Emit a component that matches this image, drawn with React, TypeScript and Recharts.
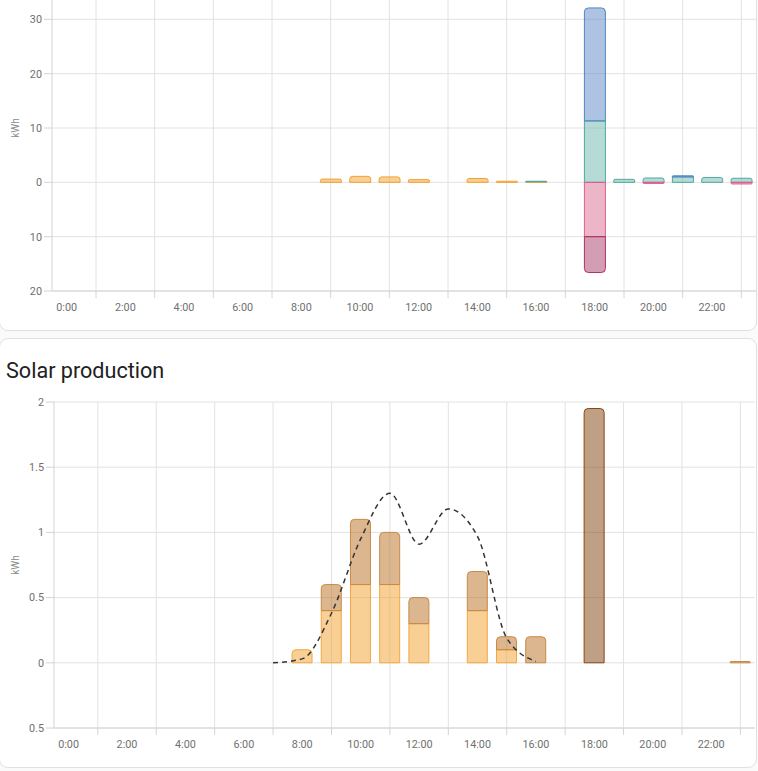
import { ComposedChart, BarChart, Bar, Line, XAxis, YAxis, CartesianGrid, Rectangle } from 'recharts';

const hours = [0, 1, 2, 3, 4, 5, 6, 7, 8, 9, 10, 11, 12, 13, 14, 15, 16, 17, 18, 19, 20, 21, 22, 23];
const hourLabels = [
  '0:00', '1:00', '2:00', '3:00', '4:00', '5:00', '6:00', '7:00', '8:00', '9:00', '10:00', '11:00',
  '12:00', '13:00', '14:00', '15:00', '16:00', '17:00', '18:00', '19:00', '20:00', '21:00', '22:00', '23:00',
];
const gridHours = [1, 3, 5, 7, 9, 11, 13, 15, 17, 19, 21, 23];

// energy usage (kWh), positive = consumed, negative = stored
const usageSolar = [0, 0, 0, 0, 0, 0, 0, 0, 0, 0.6, 1.1, 1.0, 0.5, 0, 0.7, 0.2, 0.1, 0, 0, 0, 0, 0, 0, 0];
const usageBatteryOut = [0, 0, 0, 0, 0, 0, 0, 0, 0, 0, 0, 0, 0, 0, 0, 0, 0.1, 0, 11.3, 0.55, 0.8, 1.0, 0.9, 0.75];
const usageGrid = [0, 0, 0, 0, 0, 0, 0, 0, 0, 0, 0, 0, 0, 0, 0, 0, 0, 0, 20.8, 0, 0, 0.2, 0, 0];
const usageBatteryIn = [0, 0, 0, 0, 0, 0, 0, 0, 0, 0, 0, 0, 0, 0, 0, 0, 0, 0, -10, 0, -0.2, 0, 0, -0.3];
const usageBattery2In = [0, 0, 0, 0, 0, 0, 0, 0, 0, 0, 0, 0, 0, 0, 0, 0, 0, 0, -6.6, 0, 0, 0, 0, 0];
const usageTicks = [-20, -10, 0, 10, 20, 30];

// solar production (kWh)
const solarA = [0, 0, 0, 0, 0, 0, 0, 0, 0.1, 0.4, 0.6, 0.6, 0.3, 0, 0.4, 0.1, 0, 0, 0, 0, 0, 0, 0, 0];
const solarB = [0, 0, 0, 0, 0, 0, 0, 0, 0, 0.2, 0.5, 0.4, 0.2, 0, 0.3, 0.1, 0.2, 0, 0, 0, 0, 0, 0, 0.01];
const solarC = [0, 0, 0, 0, 0, 0, 0, 0, 0, 0, 0, 0, 0, 0, 0, 0, 0, 0, 1.95, 0, 0, 0, 0, 0];
const forecast = [null, null, null, null, null, null, null, 0, 0.03, 0.38, 0.95, 1.3, 0.91, 1.18, 0.97, 0.19, 0.01, null, null, null, null, null, null, null];
const solarTicks = [-0.5, 0, 0.5, 1, 1.5, 2];

const usageData = hours.map((h, i) => ({
  hour: h,
  solar: usageSolar[i],
  batteryOut: usageBatteryOut[i],
  grid: usageGrid[i],
  batteryIn: usageBatteryIn[i],
  battery2In: usageBattery2In[i],
}));

const solarData = hours.map((h, i) => ({
  hour: h,
  a: solarA[i],
  b: solarB[i],
  c: solarC[i],
  forecast: forecast[i],
}));

const FONT = 'Roboto, sans-serif';
const TICK_COLOR = '#707070';
const AXIS_COLOR = '#d4d4d4';

// round only the outer end of each stack
const stackShape = (key: string, order: string[], negative: boolean) => (props: any) => {
  const { x, y, width, height, payload } = props;
  if (!height) return null;
  const idx = order.indexOf(key);
  const isEnd = order.slice(idx + 1).every((k) => !payload[k]);
  const top = Math.min(y, y + height);
  const h = Math.abs(height);
  const r = isEnd ? 4 : 0;
  const radius: [number, number, number, number] = negative ? [0, 0, r, r] : [r, r, 0, 0];
  return (
    <Rectangle
      x={x}
      y={top}
      width={width}
      height={h}
      radius={radius}
      fill={props.fill}
      fillOpacity={props.fillOpacity}
      stroke={props.stroke}
      strokeWidth={1}
    />
  );
};

const HourTick = (props: any) => {
  const { x, y, payload } = props;
  const h = Number(payload.value);
  if (h % 2 === 1) {
    return <line x1={x} x2={x} y1={y} y2={y + 7} stroke={AXIS_COLOR} />;
  }
  return (
    <text x={x} y={y + 20} textAnchor="middle" fontSize={10.8} fill={TICK_COLOR} fontFamily={FONT}>
      {hourLabels[h]}
    </text>
  );
};

const KwhLabel = (props: any) => {
  const vb = props.viewBox;
  const cx = 16;
  const cy = vb.y + vb.height / 2;
  return (
    <text
      x={cx}
      y={cy}
      transform={`rotate(-90 ${cx} ${cy})`}
      textAnchor="middle"
      dominantBaseline="middle"
      fontSize={10}
      fill="#8c8c8c"
      fontFamily={FONT}
    >
      kWh
    </text>
  );
};

const absFormat = (v: number) => String(Math.abs(v));

const posOrder = ['solar', 'batteryOut', 'grid'];
const negOrder = ['batteryIn', 'battery2In'];
const solarOrder = ['a', 'b', 'c'];

const cardStyle: React.CSSProperties = {
  position: 'absolute',
  left: -1,
  width: 758,
  background: '#fff',
  border: '1px solid #e0e0e0',
  borderRadius: 9,
  boxSizing: 'border-box',
};

const App = () => {
  return (
    <div
      style={{
        position: 'absolute',
        left: 0,
        top: 0,
        width: 758,
        height: 771,
        overflow: 'hidden',
        background: '#fafafa',
        fontFamily: FONT,
      }}
    >
      <div style={{ ...cardStyle, top: -30, height: 361 }} />
      <div style={{ ...cardStyle, top: 338, height: 430 }} />

      <div style={{ position: 'absolute', left: 0, top: -45 }}>
        <BarChart
          width={758}
          height={370}
          data={usageData}
          stackOffset="sign"
          barCategoryGap="15%"
          margin={{ top: 10, right: 2, bottom: 4, left: 0 }}
        >
          <CartesianGrid stroke="#e2e2e2" verticalValues={gridHours} />
          <XAxis
            dataKey="hour"
            type="category"
            interval={0}
            height={30}
            tickLine={false}
            tickSize={0}
            tickMargin={0}
            tick={<HourTick />}
            axisLine={{ stroke: AXIS_COLOR }}
          />
          <YAxis
            width={52}
            domain={[-20, 40]}
            ticks={usageTicks}
            tickFormatter={absFormat}
            tick={{ fontSize: 10.8, fill: TICK_COLOR, fontFamily: FONT }}
            tickLine={{ stroke: AXIS_COLOR }}
            tickSize={8}
            tickMargin={2}
            axisLine={{ stroke: AXIS_COLOR }}
            label={{ content: KwhLabel }}
          />
          <Bar dataKey="solar" stackId="u" fill="#f19f2b" fillOpacity={0.5} stroke="#f5a030" isAnimationActive={false} shape={stackShape('solar', posOrder, false)} />
          <Bar dataKey="batteryOut" stackId="u" fill="#6db7af" fillOpacity={0.5} stroke="#4ea89e" isAnimationActive={false} shape={stackShape('batteryOut', posOrder, false)} />
          <Bar dataKey="grid" stackId="u" fill="#5d87c3" fillOpacity={0.5} stroke="#4f86c4" isAnimationActive={false} shape={stackShape('grid', posOrder, false)} />
          <Bar dataKey="batteryIn" stackId="u" fill="#d96b91" fillOpacity={0.5} stroke="#e05c8c" isAnimationActive={false} shape={stackShape('batteryIn', negOrder, true)} />
          <Bar dataKey="battery2In" stackId="u" fill="#a73b67" fillOpacity={0.5} stroke="#b0305e" isAnimationActive={false} shape={stackShape('battery2In', negOrder, true)} />
        </BarChart>
      </div>

      <div
        style={{
          position: 'absolute',
          left: 6,
          top: 357,
          fontSize: 21.6,
          lineHeight: '28px',
          color: '#212121',
          fontFamily: FONT,
        }}
      >
        Solar production
      </div>

      <div style={{ position: 'absolute', left: 0, top: 390 }}>
        <ComposedChart
          width={758}
          height={372}
          data={solarData}
          barCategoryGap="15%"
          margin={{ top: 12, right: 3, bottom: 4, left: 0 }}
        >
          <CartesianGrid stroke="#e2e2e2" verticalValues={gridHours} />
          <XAxis
            dataKey="hour"
            type="category"
            interval={0}
            height={30}
            tickLine={false}
            tickSize={0}
            tickMargin={0}
            tick={<HourTick />}
            axisLine={{ stroke: AXIS_COLOR }}
          />
          <YAxis
            width={54}
            domain={[-0.5, 2]}
            ticks={solarTicks}
            tickFormatter={absFormat}
            tick={{ fontSize: 10.8, fill: TICK_COLOR, fontFamily: FONT }}
            tickLine={{ stroke: AXIS_COLOR }}
            tickSize={8}
            tickMargin={2}
            axisLine={{ stroke: AXIS_COLOR }}
            label={{ content: KwhLabel }}
          />
          <Bar dataKey="a" stackId="s" fill="#f19f2b" fillOpacity={0.5} stroke="#f5a742" isAnimationActive={false} shape={stackShape('a', solarOrder, false)} />
          <Bar dataKey="b" stackId="s" fill="#b76d1f" fillOpacity={0.5} stroke="#c98a45" isAnimationActive={false} shape={stackShape('b', solarOrder, false)} />
          <Bar dataKey="c" stackId="s" fill="#81410b" fillOpacity={0.5} stroke="#8b4513" isAnimationActive={false} shape={stackShape('c', solarOrder, false)} />
          <Line
            dataKey="forecast"
            type="monotone"
            stroke="#333"
            strokeWidth={1.5}
            strokeDasharray="5 4"
            dot={false}
            activeDot={false}
            connectNulls={false}
            isAnimationActive={false}
          />
        </ComposedChart>
      </div>
    </div>
  );
};

export default App;
